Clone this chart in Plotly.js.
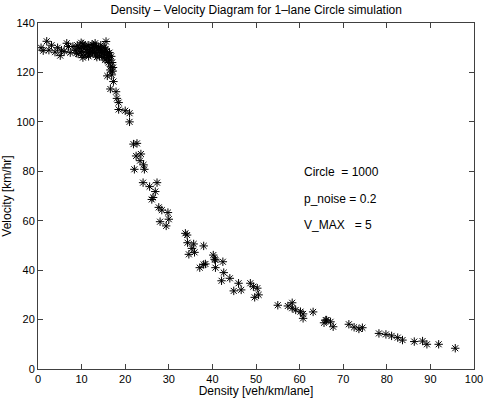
<!DOCTYPE html>
<html>
<head>
<meta charset="utf-8">
<script src="https://cdn.plot.ly/plotly-3.0.1.min.js"></script>
<style>
  html, body { margin: 0; padding: 0; background: #fff; }
  #chart { width: 488px; height: 398px; }
</style>
</head>
<body>
<div id="chart"></div>
<script>
// density [veh/km/lane]
var density = [
  0.7, 1.2, 2.0, 2.5, 3.1, 3.9, 4.5, 5.1, 5.4, 6.0, 6.6, 7.0, 7.4,
  8.0, 8.5, 9.0, 9.2, 9.6, 10.0, 10.3, 10.3, 10.5, 10.8, 11.0, 11.3, 11.5, 11.8,
  12.0, 12.2, 12.5, 12.7, 13.0, 13.2, 13.4, 13.6, 13.9, 14.1, 14.3, 14.5, 14.7,
  14.9, 15.1, 15.3, 15.5, 15.6, 15.7, 15.9, 16.1, 16.2, 16.4, 16.5, 16.7, 16.8,
  17.0, 17.1, 16.9, 17.2,
  8.8, 9.4, 10.1, 10.7, 11.2, 11.9, 12.4, 12.9, 13.5, 14.0, 14.6, 15.2, 15.8, 16.3,
  9.9, 11.6, 13.1, 14.4, 15.4,
  16.6, 15.9, 17.3, 16.6, 17.9, 18.1, 18.5, 18.5, 20.0, 21.0, 21.0,
  21.9, 22.7, 22.5, 23.6, 23.4, 24.2, 24.4, 22.1, 24.1, 27.3, 25.6, 26.9, 26.4,
  26.1, 27.7, 28.4, 29.8, 30.0, 28.0, 29.4,
  33.8, 34.2, 34.3, 35.7, 35.3, 38.0, 35.9, 34.6, 40.2, 40.7, 42.4, 38.0, 37.1,
  40.7, 40.5, 38.4, 42.6, 44.0, 42.1, 46.0, 48.7, 49.4, 50.3, 44.9, 46.6, 50.6,
  49.7, 55.0, 57.3, 58.3, 58.3, 59.1, 60.2, 60.8, 60.8, 63.1, 66.2,
  66.0, 67.1, 67.7, 65.6, 71.3, 72.5, 73.6, 74.4, 78.2, 79.8, 81.1, 82.5, 83.6,
  86.3, 88.2, 89.2, 91.9, 95.7
];
// velocity [km/hr]
var velocity = [
  130.0, 128.8, 132.6, 129.0, 131.0, 128.2, 130.0, 126.8, 129.0, 128.5, 131.8, 130.5, 128.0,
  130.5, 129.0, 131.0, 127.5, 130.0, 128.5, 131.5, 126.0, 129.5, 127.0, 130.5, 128.0, 131.0, 129.0,
  127.5, 130.0, 128.5, 131.0, 129.5, 127.0, 130.5, 128.0, 129.5, 126.5, 130.0, 128.0, 129.0,
  126.0, 128.5, 127.0, 129.5, 132.5, 125.5, 127.5, 126.0, 124.0, 128.0, 125.0, 122.5, 126.5,
  124.0, 120.5, 119.0, 122.0,
  127.8, 129.8, 127.0, 130.8, 129.3, 127.8, 131.3, 128.0, 126.2, 128.8, 127.4, 130.2, 128.6, 126.8,
  132.0, 126.5, 131.8, 131.0, 125.0,
  121.0, 118.6, 116.3, 113.3, 112.2, 109.5, 107.8, 105.0, 104.5, 103.5, 100.0,
  91.0, 91.3, 86.2, 87.0, 84.3, 82.6, 80.8, 80.8, 75.4, 75.4, 73.8, 71.8, 69.4,
  68.6, 65.4, 64.3, 63.3, 60.6, 59.6, 57.9,
  54.9, 54.2, 51.1, 50.6, 48.8, 49.8, 47.2, 46.4, 46.1, 44.1, 43.4, 42.3, 41.0,
  41.0, 44.4, 42.5, 39.0, 36.7, 35.7, 34.7, 34.7, 33.3, 32.7, 31.6, 32.0, 30.0,
  29.0, 25.8, 25.5, 26.8, 24.6, 23.9, 23.2, 22.3, 20.5, 23.1, 19.8,
  19.8, 19.1, 17.1, 18.7, 18.1, 16.9, 16.2, 16.7, 14.4, 14.0, 13.4, 12.7, 11.7,
  11.1, 11.3, 10.0, 10.0, 8.4
];

var xTicks = [0, 10, 20, 30, 40, 50, 60, 70, 80, 90, 100];
var yTicks = [0, 20, 40, 60, 80, 100, 120, 140];
var notes = ['Circle  = 1000', 'p_noise = 0.2', 'V_MAX   = 5'];
var noteY = [79.7, 68.8, 58.3];

var data = [{
  x: density,
  y: velocity,
  type: 'scatter',
  mode: 'markers',
  marker: {
    symbol: 'asterisk-open',
    size: 7,
    color: '#000',
    line: { color: '#000', width: 1 }
  },
  hoverinfo: 'skip'
}];

var axisStyle = {
  showgrid: false,
  zeroline: false,
  showline: true,
  mirror: 'ticks',
  linecolor: '#404040',
  linewidth: 1,
  ticks: 'inside',
  ticklen: 5,
  tickcolor: '#404040',
  tickfont: { family: 'Liberation Sans, Arial, sans-serif', size: 11, color: '#000' }
};

var annots = notes.map(function (t, i) {
  return {
    x: 60.5, y: noteY[i], xref: 'x', yref: 'y',
    text: t, showarrow: false, xanchor: 'left', yanchor: 'middle',
    font: { family: 'Liberation Sans, Arial, sans-serif', size: 12, color: '#000' }
  };
});

var layout = {
  width: 488,
  height: 398,
  margin: { l: 38, r: 14, t: 23, b: 29 },
  paper_bgcolor: '#fff',
  plot_bgcolor: '#fff',
  showlegend: false,
  title: {
    text: 'Density \u2013 Velocity Diagram for 1\u2013lane Circle simulation',
    font: { family: 'Liberation Sans, Arial, sans-serif', size: 12, color: '#000' },
    x: 0.525, xanchor: 'center', y: 0.975, yanchor: 'middle'
  },
  xaxis: Object.assign({}, axisStyle, {
    range: [0, 100],
    tickvals: xTicks,
    ticktext: xTicks.map(String),
    title: { text: 'Density [veh/km/lane]', standoff: 1,
      font: { family: 'Liberation Sans, Arial, sans-serif', size: 12, color: '#000' } }
  }),
  yaxis: Object.assign({}, axisStyle, {
    range: [0, 140],
    tickvals: yTicks,
    ticktext: yTicks.map(String),
    title: { text: 'Velocity [km/hr]', standoff: 4,
      font: { family: 'Liberation Sans, Arial, sans-serif', size: 12, color: '#000' } }
  }),
  annotations: annots
};

Plotly.newPlot('chart', data, layout, { displayModeBar: false, staticPlot: true });
</script>
</body>
</html>
